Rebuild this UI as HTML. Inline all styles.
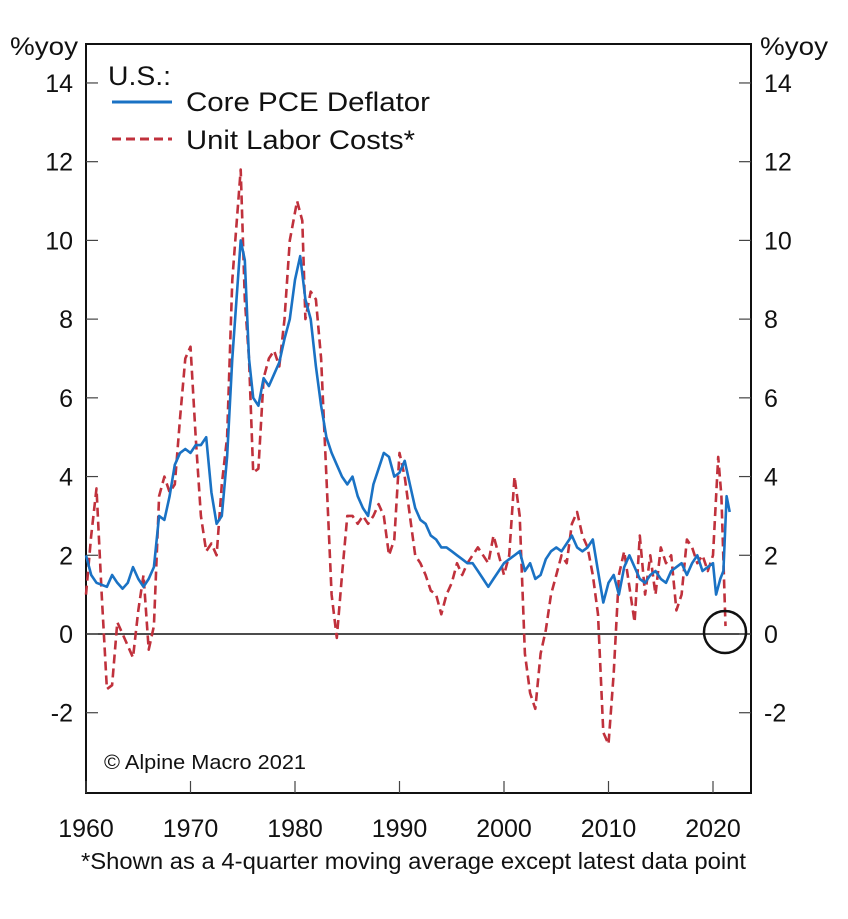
<!DOCTYPE html>
<html><head><meta charset="utf-8"><style>
html,body{margin:0;padding:0;background:#fff;}
svg text{font-family:"Liberation Sans",Arial,sans-serif;fill:#111;}
</style></head><body>
<svg id="s" width="848" height="914" xmlns="http://www.w3.org/2000/svg">
<rect x="0" y="0" width="848" height="914" fill="#fff"/>
<rect x="86" y="44" width="665" height="749" fill="none" stroke="#111" stroke-width="2"/>
<line x1="86" y1="634" x2="751" y2="634" stroke="#111" stroke-width="1.5"/>
<g id="ticks" stroke="#444" stroke-width="1.2"></g>
<g id="labels" font-size="25"></g>
<text x="10" y="55" font-size="25" textLength="68" lengthAdjust="spacingAndGlyphs">%yoy</text>
<text x="760" y="55" font-size="25" textLength="68" lengthAdjust="spacingAndGlyphs">%yoy</text>
<text x="108" y="85" font-size="27" textLength="63" lengthAdjust="spacingAndGlyphs">U.S.:</text>
<line x1="112" y1="102" x2="172" y2="102" stroke="#1a72c4" stroke-width="3"/>
<text x="186" y="111" font-size="27" textLength="244" lengthAdjust="spacingAndGlyphs">Core PCE Deflator</text>
<line x1="112" y1="139" x2="172" y2="139" stroke="#c0313c" stroke-width="3" stroke-dasharray="9,5"/>
<text x="186" y="149" font-size="27" textLength="229" lengthAdjust="spacingAndGlyphs">Unit Labor Costs*</text>
<text x="104" y="769" font-size="20" textLength="202" lengthAdjust="spacingAndGlyphs">© Alpine Macro 2021</text>
<text x="81" y="869" font-size="23" textLength="665" lengthAdjust="spacingAndGlyphs">*Shown as a 4-quarter moving average except latest data point</text>
<path id="red" fill="none" stroke="#c0313c" stroke-width="2.6" stroke-dasharray="9,5" stroke-linejoin="round"/>
<path id="blue" fill="none" stroke="#1a72c4" stroke-width="2.6" stroke-linejoin="round"/>
<circle cx="725" cy="632" r="21" fill="none" stroke="#111" stroke-width="2.5"/>
</svg>
<script>
function X(y){return 86+(y-1960)*10.45;}
function Y(v){return 634-v*39.36;}
var ns="http://www.w3.org/2000/svg";
var tk=document.getElementById("ticks"),lb=document.getElementById("labels");
function el(p,t,a,txt){var e=document.createElementNS(ns,t);for(var k in a)e.setAttribute(k,a[k]);if(txt)e.textContent=txt;p.appendChild(e);}
for(var v=-2;v<=14;v+=2){var y=Y(v);
 el(tk,"line",{x1:86,y1:y,x2:98,y2:y});el(tk,"line",{x1:739,y1:y,x2:751,y2:y});
 el(lb,"text",{x:73,y:y+9,"text-anchor":"end"},String(v));
 el(lb,"text",{x:764,y:y+9},String(v));}
for(var yr=1960;yr<=2020;yr+=10){var x=X(yr);
 el(tk,"line",{x1:x,y1:781,x2:x,y2:793});
 el(lb,"text",{x:x,y:837,"text-anchor":"middle"},String(yr));}
var b=[1960,2.0,1960.5,1.5,1961,1.3,1962,1.2,1962.5,1.5,1963,1.3,1963.5,1.15,1964,1.3,1964.5,1.7,1965,1.4,1965.5,1.2,1966,1.4,1966.5,1.7,1967,3.0,1967.5,2.9,1968,3.5,1968.5,4.3,1969,4.6,1969.5,4.7,1970,4.6,1970.5,4.8,1971,4.8,1971.5,5.0,1972,3.6,1972.5,2.8,1973,3.0,1973.5,4.5,1974,7.0,1974.8,10.0,1975.2,9.5,1975.6,7.0,1976,6.0,1976.5,5.8,1977,6.5,1977.5,6.3,1978,6.6,1978.5,6.9,1979,7.5,1979.5,8.0,1980,9.0,1980.5,9.6,1981,8.5,1981.5,8.0,1982,6.8,1982.5,5.8,1983,5.0,1983.5,4.6,1984,4.3,1984.5,4.0,1985,3.8,1985.5,4.0,1986,3.5,1986.5,3.2,1987,3.0,1987.5,3.8,1988,4.2,1988.5,4.6,1989,4.5,1989.5,4.0,1990,4.1,1990.5,4.4,1991,3.8,1991.5,3.2,1992,2.9,1992.5,2.8,1993,2.5,1993.5,2.4,1994,2.2,1994.5,2.2,1995,2.1,1995.5,2.0,1996,1.9,1996.5,1.8,1997,1.8,1997.5,1.6,1998,1.4,1998.5,1.2,1999,1.4,1999.5,1.6,2000,1.8,2000.5,1.9,2001,2.0,2001.5,2.1,2002,1.6,2002.5,1.8,2003,1.4,2003.5,1.5,2004,1.9,2004.5,2.1,2005,2.2,2005.5,2.1,2006,2.3,2006.5,2.5,2007,2.2,2007.5,2.1,2008,2.2,2008.5,2.4,2009,1.6,2009.5,0.8,2010,1.3,2010.5,1.5,2011,1.0,2011.5,1.7,2012,2.0,2012.5,1.7,2013,1.4,2013.5,1.3,2014,1.5,2014.5,1.6,2015,1.4,2015.5,1.3,2016,1.6,2016.5,1.7,2017,1.8,2017.5,1.5,2018,1.8,2018.5,2.0,2019,1.6,2019.5,1.7,2020,1.8,2020.3,1.0,2020.7,1.4,2021,1.6,2021.3,3.5,2021.6,3.1];
var r=[1960,1.0,1960.5,2.5,1961,3.7,1961.5,1.0,1962,-1.4,1962.5,-1.3,1963,0.3,1963.5,0.0,1964,-0.3,1964.5,-0.6,1965,0.6,1965.5,1.5,1966,-0.4,1966.5,0.2,1967,3.5,1967.5,4.0,1968,3.6,1968.5,3.8,1969,5.5,1969.5,7.0,1970,7.3,1970.5,5.0,1971,3.0,1971.5,2.1,1972,2.3,1972.5,2.0,1973,3.8,1973.5,5.0,1974,9.0,1974.8,11.8,1975.2,8.5,1975.6,7.0,1976,4.1,1976.5,4.2,1977,6.5,1977.5,7.0,1978,7.2,1978.5,6.8,1979,8.0,1979.5,10.0,1980.2,11.0,1980.7,10.5,1981,8.0,1981.5,8.7,1982,8.5,1982.5,7.0,1983,4.0,1983.5,1.0,1984,-0.1,1984.5,1.5,1985,3.0,1985.5,3.0,1986,2.8,1986.5,3.0,1987,2.8,1987.5,3.0,1988,3.3,1988.5,3.0,1989,2.0,1989.5,2.4,1990,4.6,1990.5,4.0,1991,3.0,1991.5,2.0,1992,1.8,1992.5,1.5,1993,1.1,1993.5,1.0,1994,0.5,1994.5,1.0,1995,1.3,1995.5,1.8,1996,1.5,1996.5,1.8,1997,2.0,1997.5,2.2,1998,2.0,1998.5,1.8,1999,2.5,1999.5,2.0,2000,1.5,2000.5,2.0,2001,4.0,2001.5,3.0,2002,-0.5,2002.5,-1.5,2003,-1.9,2003.5,-0.5,2004,0.1,2004.5,1.0,2005,1.5,2005.5,2.0,2006,1.8,2006.5,2.8,2007,3.1,2007.5,2.5,2008,2.2,2008.5,1.5,2009,0.5,2009.5,-2.5,2010,-2.8,2010.5,-1.0,2011,1.5,2011.5,2.1,2012,1.2,2012.5,0.3,2013,2.5,2013.5,1.0,2014,2.0,2014.5,1.0,2015,2.2,2015.5,1.8,2016,2.0,2016.5,0.6,2017,1.0,2017.5,2.4,2018,2.2,2018.5,1.8,2019,2.0,2019.5,1.6,2020,2.0,2020.5,4.5,2020.8,3.5,2021.2,0.2];
function P(a){var d="";for(var i=0;i<a.length;i+=2)d+=(i?"L":"M")+X(a[i]).toFixed(1)+","+Y(a[i+1]).toFixed(1);return d;}
document.getElementById("blue").setAttribute("d",P(b));
document.getElementById("red").setAttribute("d",P(r));
</script>
</body></html>
